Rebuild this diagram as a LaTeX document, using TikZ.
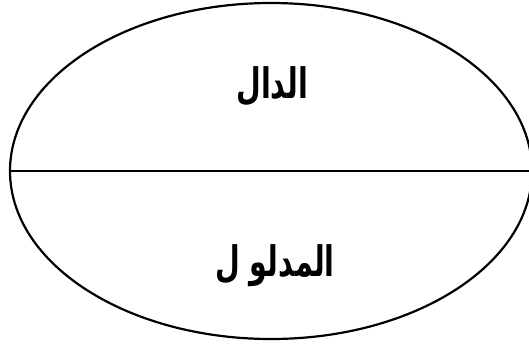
\documentclass[tikz,border=0pt]{standalone}
\usepackage{fontspec}
\newfontfamily\arabicfont[Script=Arabic]{DejaVu Sans}
\TeXXeTstate=1
\usetikzlibrary{shapes.geometric}
\tikzset{sign/.style={draw,ellipse,line width=1.1pt,inner sep=0pt,minimum width=261pt,minimum height=168pt},
  split/.style={line width=1.2pt},
  term/.style={font=\arabicfont\bfseries\fontsize{21}{24}\selectfont,transform shape,xscale=0.68}}
\begin{document}
\begin{tikzpicture}[x=0.5pt,y=-0.5pt]
\useasboundingbox (0,0) rectangle (529,343);
\clip (0,0) rectangle (529,343);
\node[sign] (unit) at (271,171) {};
\draw[split] (unit.west) -- (unit.east);
\node[term] (signifier) at (272,86) {\beginR الدال\endR};
\node[term] (signified) at (275,266) {\beginR المدلو ل\endR};
\end{tikzpicture}
\end{document}
